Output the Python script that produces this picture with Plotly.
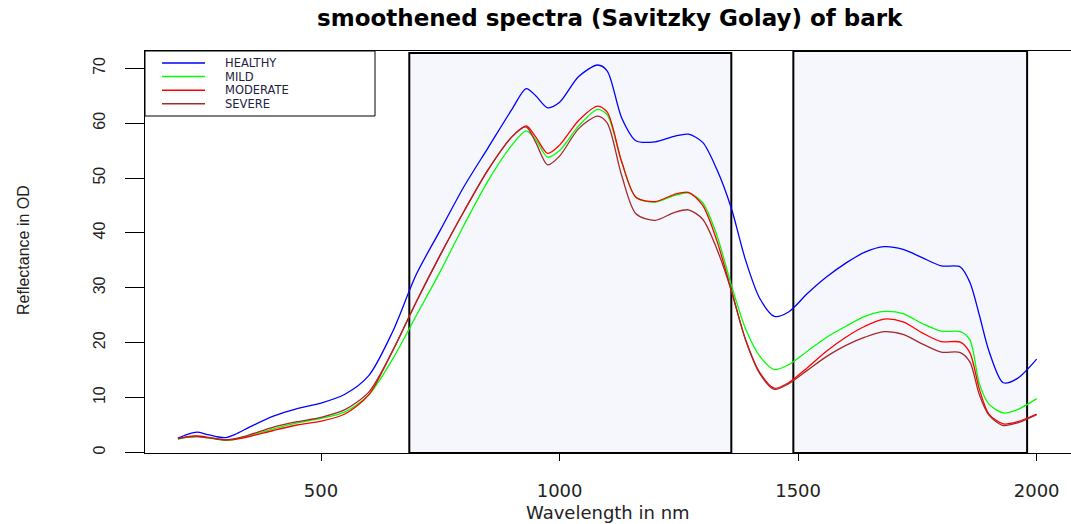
import plotly.graph_objects as go

wavelength = [200, 220, 240, 260, 280, 300, 320, 350, 400, 450, 500, 550, 600, 650, 700, 750,
              800, 850, 900, 930, 950, 975, 1000, 1040, 1080, 1100, 1130, 1160, 1200, 1240, 1270,
              1300, 1330, 1360, 1390, 1420, 1450, 1480, 1520, 1560, 1600, 1640, 1680, 1720, 1760,
              1800, 1840, 1860, 1880, 1900, 1930, 1960, 2000]

healthy = [2.6, 3.3, 3.7, 3.3, 2.9, 2.7, 3.3, 4.6, 6.6, 8.0, 9.0, 10.6, 14.0, 22.0, 32.5, 40.5,
           48.5, 55.5, 62.5, 66.3, 65.0, 62.8, 63.8, 68.5, 70.6, 69.5, 61.0, 56.8, 56.6, 57.6, 58.0,
           56.5, 51.5, 44.5, 35.0, 28.0, 24.8, 25.6, 29.0, 32.0, 34.5, 36.5, 37.5, 37.0, 35.5,
           34.0, 33.8, 31.0, 25.0, 18.5, 12.7, 13.5, 17.0]

mild = [2.4, 2.8, 2.9, 2.7, 2.4, 2.2, 2.4, 3.0, 4.3, 5.4, 6.2, 7.4, 10.5, 17.0, 25.0, 33.0,
        41.5, 49.5, 56.0, 58.6, 57.0, 53.8, 55.0, 59.5, 62.5, 61.5, 53.0, 46.5, 45.6, 46.8, 47.3,
        45.5, 39.5, 30.5, 22.5, 17.5, 15.1, 16.0, 18.5, 21.0, 23.0, 24.8, 25.7, 25.3, 23.5,
        22.1, 22.0, 20.5, 12.5, 8.8, 7.2, 7.8, 9.8]

moderate = [2.5, 2.9, 3.0, 2.8, 2.5, 2.3, 2.4, 2.9, 4.0, 5.0, 5.7, 7.0, 10.5, 18.5, 27.5, 36.0,
            44.0, 51.5, 57.5, 59.5, 57.5, 54.5, 56.0, 60.5, 63.1, 62.0, 53.0, 46.5, 45.7, 47.0, 47.4,
            45.0, 38.5, 29.5, 20.5, 14.5, 11.7, 12.7, 15.5, 18.5, 21.0, 23.0, 24.3, 23.8, 21.8,
            20.2, 20.1, 18.2, 11.5, 7.0, 5.2, 5.6, 7.0]

severe = [2.5, 2.8, 2.9, 2.7, 2.5, 2.3, 2.5, 3.2, 4.6, 5.6, 6.4, 7.8, 11.0, 18.5, 27.5, 36.0,
          44.0, 51.5, 57.5, 59.3, 56.5, 52.4, 54.0, 59.0, 61.3, 60.0, 50.5, 43.5, 42.3, 43.7, 44.2,
          42.5, 37.0, 29.5, 20.5, 14.3, 11.5, 12.5, 15.0, 17.5, 19.5, 21.0, 22.0, 21.5, 19.8,
          18.3, 18.2, 16.5, 10.5, 6.8, 4.9, 5.4, 6.9]

series_names = ["HEALTHY", "MILD", "MODERATE", "SEVERE"]
series_values = [healthy, mild, moderate, severe]
series_colors = ["#0000FF", "#00FF00", "#FF0000", "#A52A2A"]

# highlighted wavelength bands (x0, x1, top)
band_start = [685, 1490]
band_end = [1360, 1980]
band_top = [72.8, 73.15]

x_ticks = [500, 1000, 1500, 2000]
y_ticks = [0, 10, 20, 30, 40, 50, 60, 70]

W, H = 1071, 524
L, R, T, B = 145, 0, 51, 71
PW, PH = W - L - R, H - T - B


def px(x):
    return (x - L) / PW


def py(y):
    return (H - B - y) / PH


fig = go.Figure()

for name, vals, col in zip(series_names, series_values, series_colors):
    fig.add_trace(go.Scatter(x=wavelength, y=vals, mode="lines", name=name,
                             line=dict(color=col, width=1.3, shape="spline", smoothing=0.8),
                             showlegend=False))

shapes = []
for x0, x1, top in zip(band_start, band_end, band_top):
    shapes.append(dict(type="rect", xref="x", yref="y", x0=x0, x1=x1, y0=-0.1, y1=top,
                       fillcolor="#F6F7FC", line=dict(color="black", width=2), layer="below"))

# manual legend
shapes.append(dict(type="rect", xref="paper", yref="paper", x0=px(145), x1=px(375),
                   y0=py(116), y1=py(51), fillcolor="white", line=dict(color="black", width=1),
                   layer="above"))
annotations = []
row_y = [63.0, 76.6, 90.2, 103.8]
for name, col, ry in zip(series_names, series_colors, row_y):
    shapes.append(dict(type="line", xref="paper", yref="paper", x0=px(162), x1=px(205),
                       y0=py(ry), y1=py(ry), line=dict(color=col, width=1.5), layer="above"))
    annotations.append(dict(text=name, xref="paper", yref="paper", x=px(223), y=py(ry),
                            xanchor="left", yanchor="middle", showarrow=False,
                            font=dict(family="DejaVu Sans", size=11.5, color="#222244")))

annotations.append(dict(text="<b>smoothened spectra (Savitzky Golay) of bark</b>", xref="paper",
                        yref="paper", x=px(610), y=py(18), xanchor="center", yanchor="middle",
                        showarrow=False, font=dict(family="DejaVu Sans", size=23, color="black")))
annotations.append(dict(text="Wavelength in nm", xref="paper", yref="paper", x=px(608), y=py(512),
                        xanchor="center", yanchor="middle", showarrow=False,
                        font=dict(family="DejaVu Sans", size=18, color="#222")))
annotations.append(dict(text="Reflectance in OD", xref="paper", yref="paper", x=px(23), y=py(250),
                        xanchor="center", yanchor="middle", showarrow=False, textangle=-90,
                        font=dict(family="Liberation Sans", size=16, color="#222")))

fig.update_layout(
    width=W, height=H,
    margin=dict(l=L, r=R, t=T, b=B, pad=0),
    paper_bgcolor="white", plot_bgcolor="white",
    showlegend=False,
    shapes=shapes, annotations=annotations,
    xaxis=dict(range=[131, 2072], tickvals=x_ticks, ticks="outside", ticklen=7, tickcolor="black",
               showgrid=False, zeroline=False, showline=True, linecolor="black", linewidth=1,
               mirror=True, ticklabelstandoff=14,
               tickfont=dict(family="DejaVu Sans", size=18, color="#222")),
    yaxis=dict(range=[-0.1, 73.15], tickvals=y_ticks, ticks="outside", ticklen=19, tickcolor="black",
               showgrid=False, zeroline=False, showline=True, linecolor="black", linewidth=1,
               mirror=False, tickangle=-90, ticklabelstandoff=14,
               tickfont=dict(family="Liberation Sans", size=16, color="#222")),
)

fig.write_html("out.html", config={"displayModeBar": False})
